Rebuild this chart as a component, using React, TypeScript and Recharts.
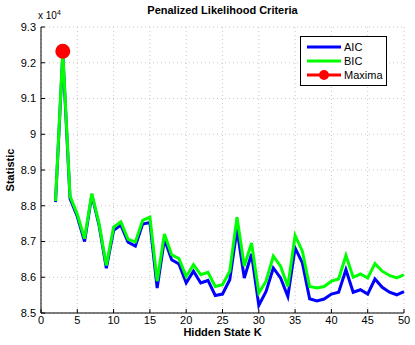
import React from 'react';
import { LineChart, Line, XAxis, YAxis, CartesianGrid } from 'recharts';

const hiddenStates = [2, 3, 4, 5, 6, 7, 8, 9, 10, 11, 12, 13, 14, 15, 16, 17, 18, 19, 20, 21, 22, 23, 24, 25, 26, 27, 28, 29, 30, 31, 32, 33, 34, 35, 36, 37, 38, 39, 40, 41, 42, 43, 44, 45, 46, 47, 48, 49, 50];

// values in units of 10^4
const aicValues = [8.81, 9.225, 8.82, 8.77, 8.70, 8.83, 8.745, 8.625, 8.731, 8.746, 8.698, 8.687, 8.749, 8.753, 8.570, 8.706, 8.649, 8.637, 8.584, 8.617, 8.584, 8.591, 8.549, 8.553, 8.593, 8.734, 8.598, 8.665, 8.521, 8.560, 8.626, 8.598, 8.546, 8.682, 8.640, 8.540, 8.534, 8.539, 8.553, 8.558, 8.621, 8.558, 8.565, 8.553, 8.595, 8.572, 8.558, 8.551, 8.560];
const bicValues = [8.813, 9.232, 8.827, 8.776, 8.708, 8.834, 8.750, 8.633, 8.740, 8.755, 8.706, 8.699, 8.759, 8.768, 8.589, 8.721, 8.663, 8.652, 8.602, 8.635, 8.607, 8.614, 8.574, 8.579, 8.617, 8.768, 8.631, 8.696, 8.556, 8.589, 8.659, 8.631, 8.574, 8.717, 8.673, 8.574, 8.570, 8.574, 8.589, 8.595, 8.661, 8.600, 8.609, 8.598, 8.638, 8.617, 8.605, 8.598, 8.607];

const maximaK = 3;
const maximaValue = 9.232;

const xTicks = [0, 5, 10, 15, 20, 25, 30, 35, 40, 45, 50];
const yTicks = [8.5, 8.6, 8.7, 8.8, 8.9, 9, 9.1, 9.2, 9.3];

const data = hiddenStates.map((k, i) => ({
    k,
    aic: aicValues[i] * 1e4,
    bic: bicValues[i] * 1e4,
    max: k === maximaK ? maximaValue * 1e4 : null,
}));

const FONT = '"Liberation Sans", Arial, Helvetica, sans-serif';

const legendItems = [
    { name: 'AIC', color: '#0000ff', dot: false },
    { name: 'BIC', color: '#00ff00', dot: false },
    { name: 'Maxima', color: '#ff0000', dot: true },
];

const LegendBox = () => (
    <div style={{
        position: 'absolute', left: 300, top: 36, width: 87, height: 50, border: '1px solid #000', background: '#fff',
        fontFamily: FONT, fontSize: 11, color: '#000', boxSizing: 'border-box', paddingTop: 3,
    }}>
        {legendItems.map((e) => (
            <div key={e.name} style={{ display: 'flex', alignItems: 'center', height: 14 }}>
                <svg width={43} height={14}>
                    <line x1={6} y1={7} x2={40} y2={7} stroke={e.color} strokeWidth={3} />
                    {e.dot && <circle cx={23} cy={7} r={5} fill={e.color} />}
                </svg>
                <span>{e.name}</span>
            </div>
        ))}
    </div>
);

export default function App() {
    const fmt = (v: number) => String(parseFloat((v / 1e4).toFixed(1)));
    const tickStyle = { fontSize: 11, fill: '#000', fontFamily: FONT };
    return (
        <div style={{ position: 'absolute', left: 0, top: 0, width: 415, height: 345, background: '#fff' }}>
            <LineChart width={415} height={345} data={data} margin={{ top: 27, right: 11, bottom: 0, left: 0 }}>
                <CartesianGrid stroke="#c8c8c8" strokeDasharray="1 3" horizontalValues={yTicks.map((t) => t * 1e4)} verticalValues={xTicks} />
                <XAxis dataKey="k" type="number" domain={[0, 50]} ticks={xTicks} height={32} stroke="#000"
                    tick={tickStyle} tickSize={-4} tickMargin={7} interval={0} />
                <XAxis xAxisId="top" orientation="top" dataKey="k" type="number" domain={[0, 50]} ticks={xTicks} height={0}
                    stroke="#000" tick={false} tickSize={-4} />
                <YAxis type="number" domain={[85000, 93000]} ticks={yTicks.map((t) => t * 1e4)} width={41} stroke="#000"
                    tick={tickStyle} tickSize={-4} tickMargin={9} tickFormatter={fmt} interval={0} />
                <YAxis yAxisId="right" orientation="right" type="number" domain={[85000, 93000]} ticks={yTicks.map((t) => t * 1e4)}
                    width={0} stroke="#000" tick={false} tickSize={-4} />
                <Line dataKey="aic" name="AIC" stroke="#0000ff" strokeWidth={3} dot={false} isAnimationActive={false} />
                <Line dataKey="bic" name="BIC" stroke="#00ff00" strokeWidth={3} dot={false} isAnimationActive={false} />
                <Line dataKey="max" name="Maxima" stroke="#ff0000" strokeWidth={3} dot={{ r: 6, fill: '#ff0000', stroke: '#ff0000' }}
                    connectNulls={false} isAnimationActive={false} />
            </LineChart>
            <div style={{ position: 'absolute', left: 0, top: 4, width: 445, textAlign: 'center', fontFamily: FONT, fontSize: 11, fontWeight: 'bold' }}>
                Penalized Likelihood Criteria
            </div>
            <div style={{ position: 'absolute', left: 38, top: 9, fontFamily: FONT, fontSize: 10 }}>
                x 10<sup style={{ fontSize: 7 }}>4</sup>
            </div>
            <div style={{ position: 'absolute', left: 10, top: 170, transform: 'translate(-50%, -50%) rotate(-90deg)', fontFamily: FONT, fontSize: 11, fontWeight: 'bold' }}>
                Statistic
            </div>
            <div style={{ position: 'absolute', left: 41, top: 326, width: 363, textAlign: 'center', fontFamily: FONT, fontSize: 11, fontWeight: 'bold' }}>
                Hidden State K
            </div>
            <LegendBox />
        </div>
    );
}
